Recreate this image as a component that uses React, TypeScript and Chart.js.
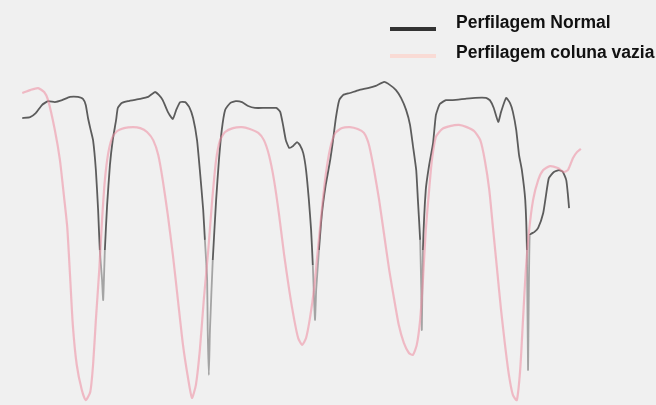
import React, { useEffect, useRef } from "react";
import { Chart, registerables } from "chart.js";

Chart.register(...registerables);

// x: relative position along the spectrum (0–100), y: relative transmittance (0–100)
const normalX = [0.4, 1.8, 2.8, 3.9, 5.0, 6.2, 7.5, 8.9, 10.3, 11.2, 11.7, 12.1, 12.5, 13.0, 13.5, 13.9, 14.2, 14.6, 14.8, 15.1, 15.5, 16.0, 16.5, 17.1, 17.4, 18.1, 19.2, 21.4, 22.8, 24.0, 24.7, 25.4, 26.3, 27.2, 27.8, 28.5, 29.4, 30.1, 30.8, 31.5, 32.0, 32.6, 32.9, 33.3, 33.4, 33.6, 33.8, 34.3, 34.9, 35.4, 35.9, 36.5, 37.4, 38.4, 39.5, 40.6, 41.8, 43.6, 45.6, 46.3, 46.8, 47.3, 47.9, 48.6, 49.3, 49.8, 50.4, 50.9, 51.4, 51.8, 52.1, 52.3, 52.5, 52.7, 53.2, 53.7, 54.4, 55.2, 55.7, 56.2, 56.8, 57.5, 58.7, 60.3, 61.9, 63.3, 64.8, 65.8, 66.9, 67.8, 68.7, 69.4, 69.9, 70.5, 70.8, 71.2, 71.4, 71.5, 71.7, 72.2, 72.8, 73.5, 74.0, 74.7, 75.8, 77.0, 79.2, 81.0, 82.9, 83.6, 84.3, 85.1, 85.6, 86.5, 87.2, 87.7, 88.3, 88.8, 89.3, 89.9, 90.2, 90.4, 90.7, 91.5, 92.2, 93.1, 93.6, 94.1, 95.0, 95.9, 96.6, 97.2, 97.5, 97.7];
const normalY = [88.3, 88.6, 89.8, 92.3, 93.5, 93.2, 93.8, 94.8, 94.8, 94.2, 92.3, 88.3, 85.2, 81.5, 72.3, 60.0, 47.7, 38.5, 32.3, 47.7, 61.5, 73.8, 81.5, 87.7, 91.4, 92.9, 93.5, 94.2, 94.8, 96.3, 95.4, 93.8, 90.2, 88.0, 90.8, 93.2, 93.2, 91.7, 88.3, 81.5, 72.3, 60.0, 50.8, 38.5, 23.1, 9.2, 23.1, 44.6, 63.1, 75.4, 84.6, 90.8, 92.9, 93.5, 93.2, 92.0, 91.4, 91.4, 91.4, 90.2, 86.2, 81.5, 79.1, 79.7, 80.9, 80.0, 77.5, 72.3, 63.1, 53.8, 43.1, 33.8, 26.2, 35.4, 47.7, 58.5, 67.7, 75.4, 81.5, 88.3, 93.8, 95.4, 96.0, 96.9, 97.5, 98.2, 99.4, 98.5, 96.9, 94.5, 90.8, 86.2, 80.0, 72.3, 63.1, 50.8, 35.4, 23.1, 47.7, 66.2, 73.8, 80.6, 89.2, 92.6, 93.8, 93.8, 94.2, 94.5, 94.5, 93.8, 91.4, 87.1, 90.2, 94.5, 92.9, 90.2, 84.6, 76.9, 72.3, 63.1, 47.7, 10.8, 52.3, 53.2, 54.5, 59.1, 64.6, 69.8, 71.7, 72.3, 71.7, 69.2, 64.6, 60.6];

const emptyX = [0.4, 1.8, 3.2, 4.3, 5.0, 6.2, 7.1, 7.8, 8.4, 8.9, 9.4, 10.1, 11.0, 11.7, 12.5, 13.0, 13.5, 14.1, 14.6, 15.1, 15.7, 16.4, 17.3, 18.5, 20.1, 21.4, 22.6, 23.7, 24.6, 25.4, 26.3, 27.2, 28.1, 29.0, 29.9, 30.6, 31.3, 32.0, 32.7, 33.5, 34.2, 34.9, 35.6, 36.5, 37.9, 39.5, 40.9, 42.4, 43.4, 44.3, 45.2, 46.1, 47.0, 47.9, 48.8, 49.5, 50.2, 50.9, 51.6, 52.3, 53.0, 53.7, 54.4, 55.2, 56.1, 57.3, 58.7, 60.1, 61.2, 62.1, 63.0, 63.9, 64.8, 65.7, 66.6, 67.4, 68.3, 69.2, 69.9, 70.6, 71.2, 71.7, 72.2, 72.8, 73.3, 74.0, 75.1, 76.5, 78.1, 79.5, 80.8, 81.9, 82.7, 83.5, 84.2, 84.9, 85.6, 86.3, 87.0, 87.7, 88.4, 89.0, 89.5, 90.0, 90.6, 91.3, 92.2, 93.1, 94.3, 95.7, 96.8, 97.5, 98.4, 99.1, 99.8];
const emptyY = [96.0, 96.9, 97.5, 96.3, 93.8, 84.6, 75.4, 64.6, 54.8, 40.0, 24.6, 12.3, 4.6, 1.5, 4.0, 12.3, 26.2, 41.5, 56.9, 69.2, 77.5, 82.2, 84.3, 85.2, 85.5, 85.2, 84.0, 81.5, 76.9, 69.2, 58.5, 46.2, 32.3, 18.5, 8.3, 2.2, 6.2, 16.9, 32.3, 47.7, 63.1, 75.4, 81.5, 84.0, 85.2, 85.5, 84.9, 83.7, 81.5, 76.9, 69.2, 58.5, 46.2, 35.4, 26.2, 20.6, 18.5, 20.6, 26.8, 35.4, 47.7, 60.0, 70.8, 79.1, 83.7, 85.2, 85.5, 84.9, 83.7, 80.0, 72.3, 63.1, 52.3, 41.5, 32.3, 24.6, 19.1, 16.0, 15.4, 18.5, 26.2, 38.5, 53.8, 66.2, 75.4, 82.5, 84.9, 85.8, 86.2, 85.5, 84.3, 81.5, 75.4, 66.2, 53.8, 41.5, 29.2, 18.5, 9.2, 3.1, 1.5, 10.8, 26.2, 41.5, 53.8, 63.1, 69.2, 72.3, 73.5, 72.9, 71.7, 72.3, 76.0, 77.8, 78.8];

const seriesLabels = ["Perfilagem Normal", "Perfilagem coluna vazia"];
const seriesColors = ["rgba(55,55,55,0.8)", "rgba(238,140,160,0.55)"];
const faintNormalColor = "rgba(70,70,70,0.45)";
const swatchColors = ["#333333", "#f9dbd5"];

export default function App() {
  const ref = useRef<HTMLCanvasElement | null>(null);

  useEffect(() => {
    if (!ref.current) return;
    const toPts = (xs: number[], ys: number[]) => xs.map((x, i) => ({ x, y: ys[i] }));
    const chart = new Chart(ref.current, {
      type: "line",
      data: {
        datasets: [
          {
            label: seriesLabels[1],
            data: toPts(emptyX, emptyY),
            borderColor: seriesColors[1],
            borderWidth: 2.2,
            pointRadius: 0,
            tension: 0.2,
          },
          {
            label: seriesLabels[0],
            data: toPts(normalX, normalY),
            borderColor: seriesColors[0],
            borderWidth: 1.8,
            pointRadius: 0,
            tension: 0.15,
            segment: {
              borderColor: (ctx: any) =>
                ctx.p0.parsed.y < 40 || ctx.p1.parsed.y < 40 ? faintNormalColor : undefined,
            },
          },
        ],
      },
      options: {
        responsive: false,
        maintainAspectRatio: false,
        animation: false,
        layout: { padding: { left: 20, right: 74, top: 80, bottom: 0 } },
        plugins: { legend: { display: false }, tooltip: { enabled: false } },
        scales: {
          x: { type: "linear", min: 0, max: 100, display: false },
          y: { type: "linear", min: 0, max: 100, display: false },
        },
      },
    });
    return () => chart.destroy();
  }, []);

  const textStyle: React.CSSProperties = {
    position: "absolute",
    left: 456,
    fontFamily: "'Liberation Sans', Arial, sans-serif",
    fontWeight: 700,
    fontSize: 17.5,
    lineHeight: "20px",
    color: "#111",
    whiteSpace: "nowrap",
  };

  return (
    <div style={{ position: "fixed", left: 0, top: 0, width: 656, height: 405, background: "#f0f0f0", overflow: "hidden" }}>
      <canvas ref={ref} width={656} height={405} style={{ position: "absolute", left: 0, top: 0 }} />
      <div style={{ position: "absolute", left: 390, top: 27, width: 46, height: 4, background: swatchColors[0] }} />
      <div style={{ position: "absolute", left: 390, top: 54, width: 46, height: 4, background: swatchColors[1] }} />
      <div style={{ ...textStyle, top: 12 }}>{seriesLabels[0]}</div>
      <div style={{ ...textStyle, top: 42 }}>{seriesLabels[1]}</div>
    </div>
  );
}
